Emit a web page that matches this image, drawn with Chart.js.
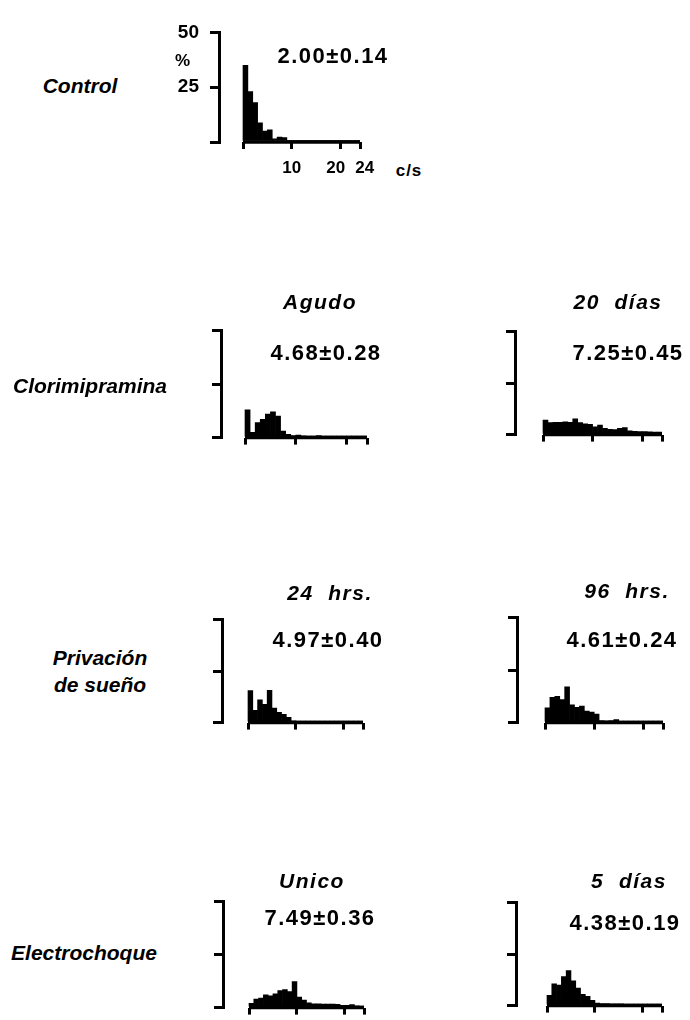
<!DOCTYPE html>
<html><head><meta charset="utf-8">
<script src="https://cdn.jsdelivr.net/npm/chart.js@4.4.1/dist/chart.umd.min.js"></script>
<style>
html,body{margin:0;padding:0;background:#fff;}
body{width:690px;height:1020px;position:relative;overflow:hidden;font-family:"Liberation Sans",Arial,sans-serif;color:#000;}
.t{position:absolute;transform:translate(-50%,-50%);white-space:pre;font-weight:bold;line-height:1;text-align:center;}
.grp{font-style:italic;font-size:21px;line-height:27px;}
.ttl{font-style:italic;font-size:21px;letter-spacing:1.5px;}
.mean{font-size:22px;letter-spacing:1.5px;}
.small{font-size:17px;letter-spacing:1px;}
canvas{position:absolute;}
</style></head><body>
<script>
// ---- data ----
const binCenters = [0.5,1.5,2.5,3.5,4.5,5.5,6.5,7.5,8.5,9.5,10.5,11.5,12.5,13.5,14.5,15.5,16.5,17.5,18.5,19.5,20.5,21.5,22.5,23.5];
const xTickValues = [0,10,20,24];
const controlXTickLabels = ['', '10', '20  ', '  24'];
const blankXTickLabels = ['', '', '', ''];
const yTickValues = [0,25,50];
const controlYTickLabels = ['', '25', '50'];
const blankYTickLabels = ['', '', ''];
const groupLabels = ['Control','Clorimipramina','Privación\nde sueño','Electrochoque'];
const conditionLabels = ['', 'Agudo','20  días','24  hrs.','96  hrs.','Unico','5  días'];
const meanLabels = ['2.00±0.14','4.68±0.28','7.25±0.45','4.97±0.40','4.61±0.24','7.49±0.36','4.38±0.19'];
const yUnitLabel = '%';
const xUnitLabel = 'c/s';

const controlPct   = [35,23,18,8.8,5,5.5,1.5,2.3,2,0.5,0.4,0.3,0.3,0.3,0.2,0.2,0.2,0.2,0.2,0.2,0.2,0.2,0.2,0.2];
const clorAgudoPct = [13,2.5,7,8.5,11,12,10,3,1.5,1,1.2,0.8,0.6,0.6,1.0,0.5,0.4,0.4,0.3,0.3,0.3,0.3,0.3,0.3];
const clor20Pct    = [7,5.8,6,6,6.2,6,7.6,5.8,5.2,5,3.8,4.6,3,2.6,2.4,3,3.4,1.8,1.6,1.5,1.5,1.3,1.2,1.2];
const priv24Pct    = [15.5,6,11,8.8,15.6,7,5,4,2.5,0.8,0.7,0.7,0.6,0.7,0.6,0.5,0.6,0.5,0.5,0.6,0.5,0.4,0.4,0.4];
const priv96Pct    = [7,12,12.5,11,17,8.5,7.2,7.8,5.5,5,4,1,0.9,1,1.4,0.7,0.6,0.6,0.5,0.5,0.5,0.5,0.5,0.5];
const ecUnicoPct   = [2,4,4.5,6,5.5,6.5,8,8.5,7.5,12.3,5,3.5,2.2,1.8,1.8,1.7,1.6,1.6,1.5,1.1,1.1,1.4,0.8,0.5];
const ec5Pct       = [5,10.5,10,14,17,12,8.5,5.5,4.5,2.5,1.2,1,1,0.9,0.9,0.8,0.6,0.6,0.6,0.6,0.7,0.7,0.6,0.6];
const seriesList = [controlPct, clorAgudoPct, clor20Pct, priv24Pct, priv96Pct, ecUnicoPct, ec5Pct];

// ---- layout (pixels) ----
const panelBox = [
  {L:219,T:24, B:142, X0:243,X24:360,xh:40},
  {L:221,T:322,B:440, X0:245,X24:367,xh:20},
  {L:515,T:323,B:437, X0:543,X24:662,xh:20},
  {L:222,T:611,B:725, X0:248,X24:363,xh:20},
  {L:517,T:609,B:725, X0:545,X24:663,xh:20},
  {L:223,T:893,B:1010,X0:249,X24:364,xh:20},
  {L:516,T:894,B:1008,X0:547,X24:662,xh:20}
];
const titlePos = [null,[320,301],[618,301],[330,592],[627,590],[312,880],[629,880]];
const meanPos  = [[333,56],[326,353],[628,353],[328,640],[622,640],[320,918],[625,923]];
const groupPos = [[80,85],[90,385],[100,671],[84,952]];
const yUnitPos = [183,60];
const xUnitPos = [409,170];

function addText(txt, pos, cls){
  const d = document.createElement('div');
  d.className = 't ' + cls;
  d.textContent = txt;
  d.style.left = pos[0] + 'px';
  d.style.top = pos[1] + 'px';
  document.body.appendChild(d);
}

function makePanel(i){
  const g = panelBox[i];
  const YW = 60, PT = 14, PR = 30;
  const c = document.createElement('canvas');
  const w = YW + (g.X24 - g.L) + PR;
  const h = PT + (g.B - g.T) + g.xh;
  c.width = w; c.height = h;
  c.style.width = w + 'px'; c.style.height = h + 'px';
  c.style.left = (g.L - YW) + 'px'; c.style.top = (g.T - PT) + 'px';
  document.body.appendChild(c);
  const xMin = -24 * (g.X0 - g.L) / (g.X24 - g.X0);
  const xl = i === 0 ? controlXTickLabels : blankXTickLabels;
  const yl = i === 0 ? controlYTickLabels : blankYTickLabels;
  const font = {family:'Liberation Sans', weight:'bold'};
  new Chart(c, {
    type: 'bar',
    data: {datasets: [
      {type:'bar', data: binCenters.map((x,k)=>({x:x, y:seriesList[i][k]})),
       backgroundColor:'#000', borderWidth:0, barPercentage:1, categoryPercentage:1, order:2},
      {type:'line', data: [{x:xTickValues[0], y:0}, {x:xTickValues[xTickValues.length-1], y:0}],
       borderColor:'#000', borderWidth:3.5, pointRadius:0, clip:false, order:1}
    ]},
    options: {
      responsive:false, animation:false, devicePixelRatio:1,
      layout:{padding:{top:PT, right:PR, left:0, bottom:0}},
      plugins:{legend:{display:false}, tooltip:{enabled:false}, title:{display:false}},
      scales:{
        x:{type:'linear', min:xMin, max:24, offset:false,
          afterBuildTicks: s => { s.ticks = xTickValues.map(v => ({value:v})); },
          afterFit: s => { s.height = g.xh; },
          grid:{offset:false, drawOnChartArea:false, drawTicks:true, tickLength:7, lineWidth:3, color:'#000'},
          border:{display:false},
          ticks:{autoSkip:false, maxRotation:0, padding:9, color:'#000', font:Object.assign({size:17}, font),
            callback: v => { const k = xTickValues.indexOf(v); return k >= 0 ? xl[k] : ''; }}
        },
        y:{type:'linear', min:0, max:50,
          afterBuildTicks: s => { s.ticks = yTickValues.map(v => ({value:v})); },
          afterFit: s => { s.width = YW; },
          grid:{drawOnChartArea:false, drawTicks:true, tickLength:9, lineWidth:3, color:'#000'},
          border:{display:true, width:3, color:'#000'},
          ticks:{padding:11, color:'#000', font:Object.assign({size:19}, font),
            callback: v => { const k = yTickValues.indexOf(v); return k >= 0 ? yl[k] : ''; }}
        }
      }
    }
  });
}

for (let i = 0; i < panelBox.length; i++) {
  makePanel(i);
  addText(meanLabels[i], meanPos[i], 'mean');
  if (titlePos[i]) addText(conditionLabels[i], titlePos[i], 'ttl');
}
for (let j = 0; j < groupLabels.length; j++) addText(groupLabels[j], groupPos[j], 'grp');
addText(yUnitLabel, yUnitPos, 'small');
addText(xUnitLabel, xUnitPos, 'small');
</script>
</body></html>
